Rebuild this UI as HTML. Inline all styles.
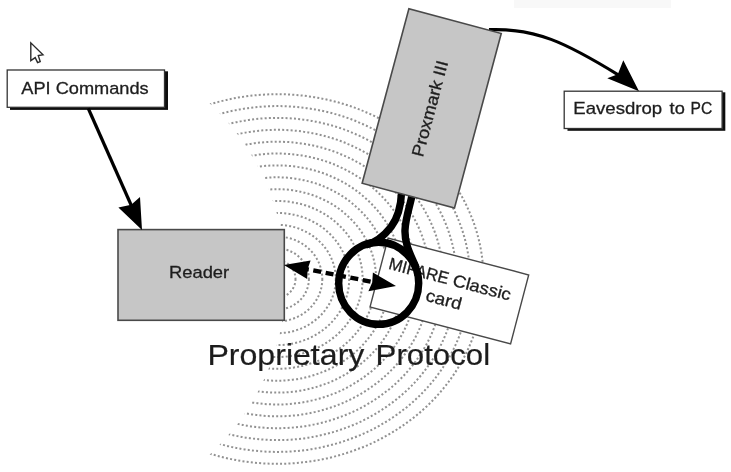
<!DOCTYPE html>
<html><head><meta charset="utf-8"><title>Proprietary Protocol</title>
<style>
html,body{margin:0;padding:0;background:#fff;}
svg{display:block;}
text{font-family:"Liberation Sans",sans-serif;fill:#1e1e1e;stroke:#1e1e1e;stroke-width:0.3px;}
</style></head><body>
<svg width="731" height="472" viewBox="0 0 731 472">
<defs>
<clipPath id="wclip"><path clip-rule="evenodd" d="M0,0H731V472H0Z M286,279 A240.5,240.5 0 1 0 -195,279 A240.5,240.5 0 1 0 286,279Z"/></clipPath>
<filter id="soft" x="-2%" y="-2%" width="104%" height="104%"><feGaussianBlur stdDeviation="0.55"/></filter>
</defs>
<rect width="731" height="472" fill="#fff"/>
<g filter="url(#soft)">
<rect x="514" y="0" width="157" height="8" fill="#f8f8f8"/>

<!-- waves -->
<g clip-path="url(#wclip)" fill="none" stroke="#929292" stroke-width="2" stroke-dasharray="2 2.2">
<ellipse cx="277.3" cy="279.0" rx="206.2" ry="184.8"/>
<ellipse cx="277.3" cy="279.0" rx="192.8" ry="172.9"/>
<ellipse cx="277.3" cy="279.0" rx="179.3" ry="161.1"/>
<ellipse cx="277.3" cy="279.0" rx="165.9" ry="149.2"/>
<ellipse cx="277.3" cy="279.0" rx="152.5" ry="137.3"/>
<ellipse cx="277.3" cy="279.0" rx="139.0" ry="125.5"/>
<ellipse cx="277.3" cy="279.0" rx="125.6" ry="113.6"/>
<ellipse cx="277.3" cy="279.0" rx="112.2" ry="101.7"/>
<ellipse cx="277.3" cy="279.0" rx="98.8" ry="89.8"/>
<ellipse cx="277.3" cy="279.0" rx="85.3" ry="78.0"/>
<ellipse cx="277.3" cy="279.0" rx="71.9" ry="66.1"/>
<ellipse cx="277.3" cy="279.0" rx="58.5" ry="54.2"/>
<ellipse cx="277.3" cy="279.0" rx="45.0" ry="42.4"/>
<ellipse cx="277.3" cy="279.0" rx="31.6" ry="30.5"/>
<ellipse cx="277.3" cy="279.0" rx="18.2" ry="18.6"/>
</g>

<!-- API Commands box -->
<rect x="10" y="71.300" width="158" height="38.600" fill="#111"/>
<rect x="7.200" y="70" width="157.300" height="37.300" fill="#fff" stroke="#333" stroke-width="1.300"/>
<text x="21.300" y="94.200" font-size="17" textLength="127.400" lengthAdjust="spacingAndGlyphs">API Commands</text>

<!-- Eavesdrop box -->
<rect x="567.500" y="92.300" width="157.800" height="38.500" fill="#111"/>
<rect x="564.200" y="91.200" width="157.900" height="37.300" fill="#fff" stroke="#333" stroke-width="1.300"/>
<text x="573.300" y="114.200" font-size="17" textLength="88.800" lengthAdjust="spacingAndGlyphs">Eavesdrop</text>
<text x="669.600" y="114.200" font-size="17" textLength="15.200" lengthAdjust="spacingAndGlyphs">to</text>
<text x="690.500" y="114.200" font-size="17" textLength="21.700" lengthAdjust="spacingAndGlyphs">PC</text>

<!-- Reader -->
<rect x="118" y="229.600" width="166.300" height="90.700" fill="#c6c6c6" stroke="#4a4a4a" stroke-width="1.600"/>
<text x="169" y="277.600" font-size="17" textLength="60.200" lengthAdjust="spacingAndGlyphs">Reader</text>

<!-- arrow API -> Reader -->
<line x1="88.300" y1="108.500" x2="132" y2="207" stroke="#000" stroke-width="3.200"/>
<polygon points="142,229.900 118.400,207.400 131.200,204.800 140,197" fill="#000"/>

<!-- curve Proxmark -> Eavesdrop -->
<path d="M489,29.700 C535,28 565,42 619,75.300" fill="none" stroke="#000" stroke-width="3.200"/>
<polygon points="639,91.200 607.300,78.200 617.800,74.200 623.300,60.200" fill="#000"/>

<!-- card -->
<rect x="-72.7" y="-35.7" width="145.3" height="71.4" transform="translate(449.4 291.0) rotate(14.7)" fill="#fff" stroke="#484848" stroke-width="1.4"/>
<g transform="translate(449.400 291) rotate(14.7)">
<text x="-65.300" y="-5.800" font-size="17" textLength="61.400" lengthAdjust="spacingAndGlyphs">MIFARE</text>
<text x="0.900" y="-5.800" font-size="17" textLength="59.500" lengthAdjust="spacingAndGlyphs">Classic</text>
<text x="-21.400" y="15.500" font-size="17" textLength="36.600" lengthAdjust="spacingAndGlyphs">card</text>
</g>

<!-- antenna wires + ring -->
<g fill="none" stroke="#000" stroke-width="7.400" stroke-linecap="butt">
<path d="M401.600,192 C401,206 397.800,218 391,227 C385,234.500 378,242 366,244.800"/>
<path d="M412.300,194 C410,206 405.500,218 405,230 C404.500,245 411,255 416.200,268"/>
<ellipse cx="378.700" cy="283.300" rx="40" ry="41"/>
</g>

<!-- Proxmark -->
<rect x="-47.8" y="-90.3" width="95.6" height="180.7" transform="translate(431.7 108.3) rotate(15)" fill="#c6c6c6" stroke="#4a4a4a" stroke-width="1.6"/>
<text transform="translate(431.700 108.300) rotate(-75)" x="-50" y="4.100" font-size="17" textLength="98.600" lengthAdjust="spacingAndGlyphs">Proxmark III</text>

<!-- dashed double arrow -->
<line x1="306.500" y1="269.100" x2="372.500" y2="282" stroke="#000" stroke-width="4.400" stroke-dasharray="8 4.600" stroke-dashoffset="5.700"/>
<polygon points="283.900,265.100 310.600,260.400 307.600,269.300 307.200,279" fill="#000"/>
<polygon points="396,286.100 368.400,291.300 372.200,282.400 372.900,272.600" fill="#000"/>

<!-- Title text -->
<text style="stroke-width:0.2px" x="207.400" y="364.600" font-size="29.500" textLength="157" lengthAdjust="spacingAndGlyphs">Proprietary</text>
<text style="stroke-width:0.2px" x="375.600" y="364.600" font-size="29.500" textLength="114.500" lengthAdjust="spacingAndGlyphs">Protocol</text>

<!-- mouse cursor -->
<path d="M30.800,42.800 L30.800,60.600 L35.200,57.600 L37.600,62.600 L40.200,61.600 L38.300,55.600 L43,54.700 Z" fill="#fff" stroke="#2a2a2a" stroke-width="1.400" stroke-linejoin="miter"/>
</g>
</svg>
</body></html>
